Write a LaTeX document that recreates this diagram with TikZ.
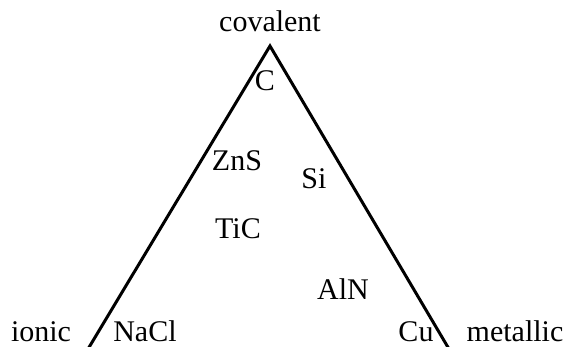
\documentclass[tikz,border=0pt]{standalone}
\usepackage{fontspec}
\setmainfont{Liberation Serif}
\begin{document}
\begin{tikzpicture}[x=0.5pt, y=-0.5pt, lbl/.style={anchor=base, inner sep=0pt, font=\fontsize{15}{18}\selectfont}]
  \useasboundingbox (0, 0) rectangle (563, 347);
  \clip (0, 0) rectangle (563, 347);

  % Triangle sides
  \coordinate (apex) at (270, 46);
  \coordinate (leftend) at (88, 349);
  \coordinate (rightend) at (449, 349);
  \draw[line width=1.5pt, line join=miter] (leftend) -- (apex) -- (rightend);

  % Corners
  \node[lbl] (covalent) at (270, 32) {covalent};
  \node[lbl] (ionic) at (41, 342) {ionic};
  \node[lbl] (metallic) at (515, 342) {metallic};

  % Compounds
  \node[lbl] (C) at (265, 91) {C};
  \node[lbl] (ZnS) at (237, 171) {ZnS};
  \node[lbl] (Si) at (314, 189) {Si};
  \node[lbl] (TiC) at (238, 239) {TiC};
  \node[lbl] (AlN) at (343, 300) {AlN};
  \node[lbl] (NaCl) at (145, 342) {NaCl};
  \node[lbl] (Cu) at (416, 342) {Cu};
\end{tikzpicture}
\end{document}
